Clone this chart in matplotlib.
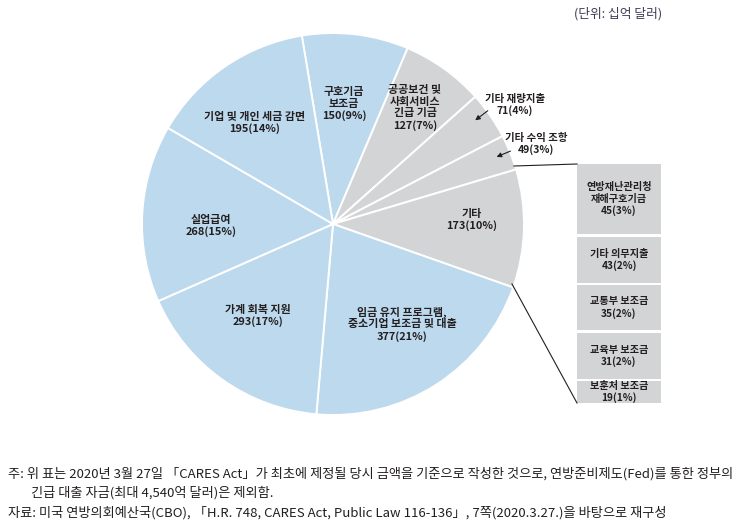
import numpy as np
import matplotlib
matplotlib.use('Agg')
import matplotlib.pyplot as plt
from matplotlib.patches import Rectangle

plt.rcParams['font.family'] = ['Noto Sans CJK KR', 'DejaVu Sans']

# 데이터 (단위: 십억 달러)
labels = ['구호기금\n보조금', '공공보건 및\n사회서비스\n긴급 기금', '기타 재량지출', '기타 수익 조항',
          '기타', '임금 유지 프로그램,\n중소기업 보조금 및 대출', '가계 회복 지원', '실업급여',
          '기업 및 개인 세금 감면']
values = [150, 127, 71, 49, 173, 377, 293, 268, 195]
shares = [9, 7, 4, 3, 10, 21, 17, 15, 14]
is_other = [False, True, True, True, True, False, False, False, False]

sub_labels = ['연방재난관리청\n재해구호기금', '기타 의무지출', '교통부 보조금', '교육부 보조금', '보훈처 보조금']
sub_values = [45, 43, 35, 31, 19]
sub_shares = [3, 2, 2, 2, 1]

blue = '#bdd9ee'
gray = '#d3d4d6'
txt = '#231f20'

W, H = 750, 528
fig = plt.figure(figsize=(7.5, 5.28), dpi=100)
ax = fig.add_axes([0, 0, 1, 1])

def Y(y):
    return H - y

cx, cy, r = 333, 224, 191
colors = [gray if o else blue for o in is_other]
ax.pie(shares, colors=colors, startangle=99.4, counterclock=False,
       center=(cx, Y(cy)), radius=r, frame=True,
       wedgeprops=dict(edgecolor='white', linewidth=1.4))
ax.set_xlim(0, W)
ax.set_ylim(0, H)
ax.set_aspect('auto')
ax.axis('off')

# 라벨 위치 (픽셀)
pos = {0: (344, 104), 1: (415, 108), 4: (472, 220), 5: (402, 324),
       6: (258, 316), 7: (211, 226), 8: (255, 123)}
for i, (x, y) in pos.items():
    ax.text(x, Y(y), f'{labels[i]}\n{values[i]}({shares[i]}%)', ha='center', va='center',
            fontsize=7.9, fontweight='bold', color=txt, linespacing=1.2)

# 화살표 라벨
ax.text(515, Y(105), f'{labels[2]}\n{values[2]}({shares[2]}%)', ha='center', va='center',
        fontsize=7.5, fontweight='bold', color=txt, linespacing=1.2)
ax.annotate('', xy=(473, Y(122)), xytext=(490, Y(109)),
            arrowprops=dict(arrowstyle='-|>', color=txt, lw=0.8, mutation_scale=7))
ax.text(536, Y(144), f'{labels[3]}\n{values[3]}({shares[3]}%)', ha='center', va='center',
        fontsize=7.5, fontweight='bold', color=txt, linespacing=1.2)
ax.annotate('', xy=(494, Y(158)), xytext=(513, Y(150)),
            arrowprops=dict(arrowstyle='-|>', color=txt, lw=0.8, mutation_scale=7))

# 기타 세부 항목 박스
bx0, bx1 = 577, 661
edges = [(164, 234), (237, 283), (285, 330), (333, 379), (381, 403)]
for (t, b), lab, v, s in zip(edges, sub_labels, sub_values, sub_shares):
    ax.add_patch(Rectangle((bx0, Y(b)), bx1 - bx0, b - t, facecolor=gray, edgecolor='none'))
    yc = (t + b) / 2 if b - t > 30 else t + 11
    ax.text((bx0 + bx1) / 2, Y(yc), f'{lab}\n{v}({s}%)', ha='center', va='center',
            fontsize=7.3, fontweight='bold', color=txt, linespacing=1.2)

# 연결선
ax.plot([514, bx0], [Y(166), Y(164)], color=txt, lw=0.8)
ax.plot([512, bx0], [Y(284), Y(403)], color=txt, lw=0.8)

# 단위
ax.text(662, Y(14), '(단위: 십억 달러)', ha='right', va='center', fontsize=9.2, color='#3d3a55')

# 주석
fs = 9.5
note = ('주: 위 표는 2020년 3월 27일 「CARES Act」가 최초에 제정될 당시 금액을 기준으로 작성한 것으로, '
        '연방준비제도(Fed)를 통한 정부의')
ax.text(8, Y(474), note, ha='left', va='center', fontsize=fs, color=txt)
ax.text(31, Y(493), '긴급 대출 자금(최대 4,540억 달러)은 제외함.', ha='left', va='center',
        fontsize=fs, color=txt)
ax.text(8, Y(513), '자료: 미국 연방의회예산국(CBO), 「H.R. 748, CARES Act, Public Law 116-136」, '
        '7쪽(2020.3.27.)을 바탕으로 재구성', ha='left', va='center', fontsize=fs, color=txt)

fig.savefig('out.png', dpi=100)
